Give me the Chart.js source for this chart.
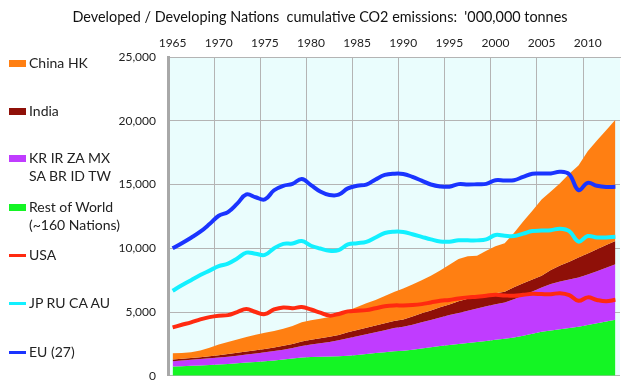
<!DOCTYPE html>
<html>
<head>
<meta charset="utf-8">
<script src="https://cdn.jsdelivr.net/npm/chart.js@4/dist/chart.umd.min.js"></script>
<style>
  html, body { margin: 0; padding: 0; background: #fff; }
  #wrap { position: relative; width: 636px; height: 386px; font-family: Lato, "Open Sans", sans-serif; color: #222; }
  #grafico { position: absolute; left: 0; top: 0; }
  #titulo { position: absolute; left: 0; width: 640px; top: 8px; text-align: center; font-size: 14.4px; line-height: 18px; color: #111; white-space: pre; }
  .item { position: absolute; left: 9px; font-size: 14px; line-height: 18px; white-space: nowrap; }
  .item .sw { position: absolute; left: 0; width: 17px; }
  .item .txt { position: absolute; left: 20px; top: 0; }
</style>
</head>
<body>
<div id="wrap">
  <canvas id="grafico" width="636" height="386"></canvas>
  <div id="titulo"></div>
  <div id="legenda"></div>
</div>
<script>
// anos 1965 - 2013
const anos = [];
for (let a = 1965; a <= 2013; a++) anos.push(String(a));

const titulo = "Developed / Developing Nations  cumulative CO2 emissions:  '000,000 tonnes";

// linhas (valores acumulados)
const eu = [10000, 10400, 10830, 11300, 11900, 12550, 12840, 13500, 14220, 14000,
  13830, 14550, 14900, 15050, 15440, 14950, 14450, 14180, 14200, 14700,
  14900, 15000, 15400, 15750, 15850, 15830, 15600, 15300, 15000, 14850,
  14830, 15030, 15000, 15020, 15050, 15340, 15320, 15340, 15600, 15850,
  15860, 15870, 16000, 15800, 14560, 15130, 14900, 14800, 14820];
const jpRuCaAu = [6670, 7100, 7500, 7900, 8250, 8600, 8800, 9200, 9660, 9570,
  9480, 10000, 10350, 10370, 10570, 10200, 9980, 9800, 9850, 10300,
  10400, 10500, 10850, 11200, 11300, 11280, 11100, 10900, 10700, 10530,
  10520, 10630, 10620, 10620, 10700, 11040, 10980, 10960, 11150, 11350,
  11390, 11420, 11540, 11350, 10520, 10960, 10850, 10850, 10900];
const usa = [3800, 4000, 4190, 4420, 4600, 4710, 4760, 5000, 5230, 5000,
  4840, 5200, 5360, 5300, 5390, 5200, 4950, 4720, 4850, 5050,
  5100, 5150, 5300, 5450, 5520, 5520, 5550, 5620, 5750, 5880,
  5950, 6070, 6150, 6200, 6280, 6350, 6300, 6275, 6350, 6430,
  6410, 6400, 6480, 6330, 5880, 6150, 5950, 5850, 5960];

// áreas (topo de cada camada, acumulado)
const chinaHk = [1770, 1790, 1840, 1980, 2200, 2450, 2650, 2850, 3050, 3220,
  3380, 3520, 3680, 3900, 4200, 4350, 4480, 4620, 4850, 5130,
  5400, 5680, 5950, 6250, 6580, 6850, 7150, 7500, 7850, 8250,
  8700, 9150, 9370, 9420, 9800, 10150, 10400, 11200, 12100, 12950,
  13830, 14450, 15100, 15850, 16500, 17600, 18450, 19250, 20080];
const india = [1275, 1330, 1390, 1460, 1540, 1620, 1700, 1800, 1900, 2000,
  2110, 2220, 2360, 2500, 2680, 2820, 2940, 3060, 3200, 3420,
  3600, 3770, 3950, 4130, 4300, 4420, 4650, 4900, 5120, 5380,
  5600, 5850, 6050, 6200, 6300, 6480, 6600, 6950, 7250, 7550,
  7840, 8300, 8650, 8950, 9270, 9600, 9920, 10250, 10570];
const krGrupo = [1150, 1200, 1250, 1310, 1370, 1430, 1500, 1580, 1670, 1750,
  1840, 1940, 2050, 2180, 2330, 2450, 2550, 2650, 2780, 2950,
  3100, 3250, 3420, 3580, 3740, 3850, 4000, 4200, 4380, 4580,
  4760, 4920, 5100, 5270, 5450, 5620, 5750, 6000, 6300, 6620,
  6930, 7200, 7400, 7550, 7710, 7950, 8200, 8480, 8750];
const restoMundo = [730, 750, 780, 810, 845, 880, 920, 980, 1040, 1090,
  1140, 1200, 1280, 1360, 1430, 1470, 1490, 1510, 1540, 1580,
  1640, 1700, 1780, 1850, 1920, 1970, 2050, 2150, 2230, 2330,
  2420, 2500, 2580, 2650, 2730, 2830, 2900, 3000, 3150, 3300,
  3450, 3550, 3650, 3750, 3850, 3980, 4120, 4260, 4400];

const cores = {
  china: "#ff7f12", india: "#8f1008", kr: "#c03cff", resto: "#14f524",
  usa: "#ff2a10", jp: "#12f0ff", eu: "#1a34ff"
};

document.getElementById("titulo").textContent = titulo;

// legenda em HTML
const itens = [
  { y: 63, linhas: ["China HK"], cor: cores.china, area: true },
  { y: 111, linhas: ["India"], cor: cores.india, area: true },
  { y: 158, linhas: ["KR IR ZA MX", "SA BR ID TW"], cor: cores.kr, area: true },
  { y: 207, linhas: ["Rest of World", "(~160 Nations)"], cor: cores.resto, area: true },
  { y: 255, linhas: ["USA"], cor: cores.usa, area: false },
  { y: 303, linhas: ["JP RU CA AU"], cor: cores.jp, area: false },
  { y: 352, linhas: ["EU (27)"], cor: cores.eu, area: false }
];
const legenda = document.getElementById("legenda");
itens.forEach(it => {
  const d = document.createElement("div");
  d.className = "item";
  d.style.top = (it.y - 9) + "px";
  const h = it.area ? 7 : 3;
  d.innerHTML = `<span class="sw" style="top:${9 - h / 2}px;height:${h}px;background:${it.cor}"></span>
    <span class="txt">${it.linhas.join("<br>")}</span>`;
  legenda.appendChild(d);
});

const fundo = {
  id: "fundo",
  beforeDraw(chart) {
    const { ctx, chartArea: c } = chart;
    ctx.save();
    ctx.fillStyle = "#eafdfd";
    ctx.fillRect(c.left, c.top, c.right - c.left, c.bottom - c.top);
    ctx.restore();
  }
};

const linha = (label, data, cor) => ({
  label, data, borderColor: cor, borderWidth: 4, pointRadius: 0,
  tension: 0.4, fill: false
});
const area = (label, data, cor, fill) => ({
  label, data, backgroundColor: cor, borderColor: cor, borderWidth: 0,
  pointRadius: 0, tension: 0, fill
});

new Chart(document.getElementById("grafico").getContext("2d"), {
  type: "line",
  data: {
    labels: anos,
    datasets: [
      linha("EU (27)", eu, cores.eu),
      linha("JP RU CA AU", jpRuCaAu, cores.jp),
      linha("USA", usa, cores.usa),
      area("China HK", chinaHk, cores.china, "+1"),
      area("India", india, cores.india, "+1"),
      area("KR IR ZA MX SA BR ID TW", krGrupo, cores.kr, "+1"),
      area("Rest of World", restoMundo, cores.resto, "origin")
    ]
  },
  options: {
    responsive: false,
    animation: false,
    layout: { padding: { left: 108, right: 16, bottom: 9, top: 32 } },
    plugins: {
      legend: { display: false },
      tooltip: { enabled: false },
      title: { display: false }
    },
    scales: {
      x: {
        position: "top",
        offset: true,
        afterFit: s => { s.height = 25; },
        grid: {
          offset: true,
          drawTicks: false,
          lineWidth: 1,
          color: c => (c.index % 5 === 0 || c.index === anos.length) ? "#b4b4b4" : "rgba(0,0,0,0)"
        },
        border: { display: true, color: "#b4b4b4", width: 1 },
        ticks: {
          autoSkip: false,
          maxRotation: 0,
          padding: 7,
          color: "#222",
          font: { family: "Lato", size: 12 },
          callback: (v, i) => i % 5 === 0 ? anos[i] : ""
        }
      },
      y: {
        min: 0,
        max: 25000,
        afterFit: s => { s.width = 60; },
        grid: { drawTicks: true, tickLength: 9, tickColor: "rgba(0,0,0,0)", color: "#b4b4b4", lineWidth: 1 },
        border: { display: true, color: "#a8a8a8", width: 3 },
        ticks: {
          stepSize: 5000,
          padding: 3,
          color: "#222",
          font: { family: "Lato", size: 12 },
          callback: v => v.toLocaleString("en-US")
        }
      }
    }
  },
  plugins: [fundo]
});
</script>
</body>
</html>
